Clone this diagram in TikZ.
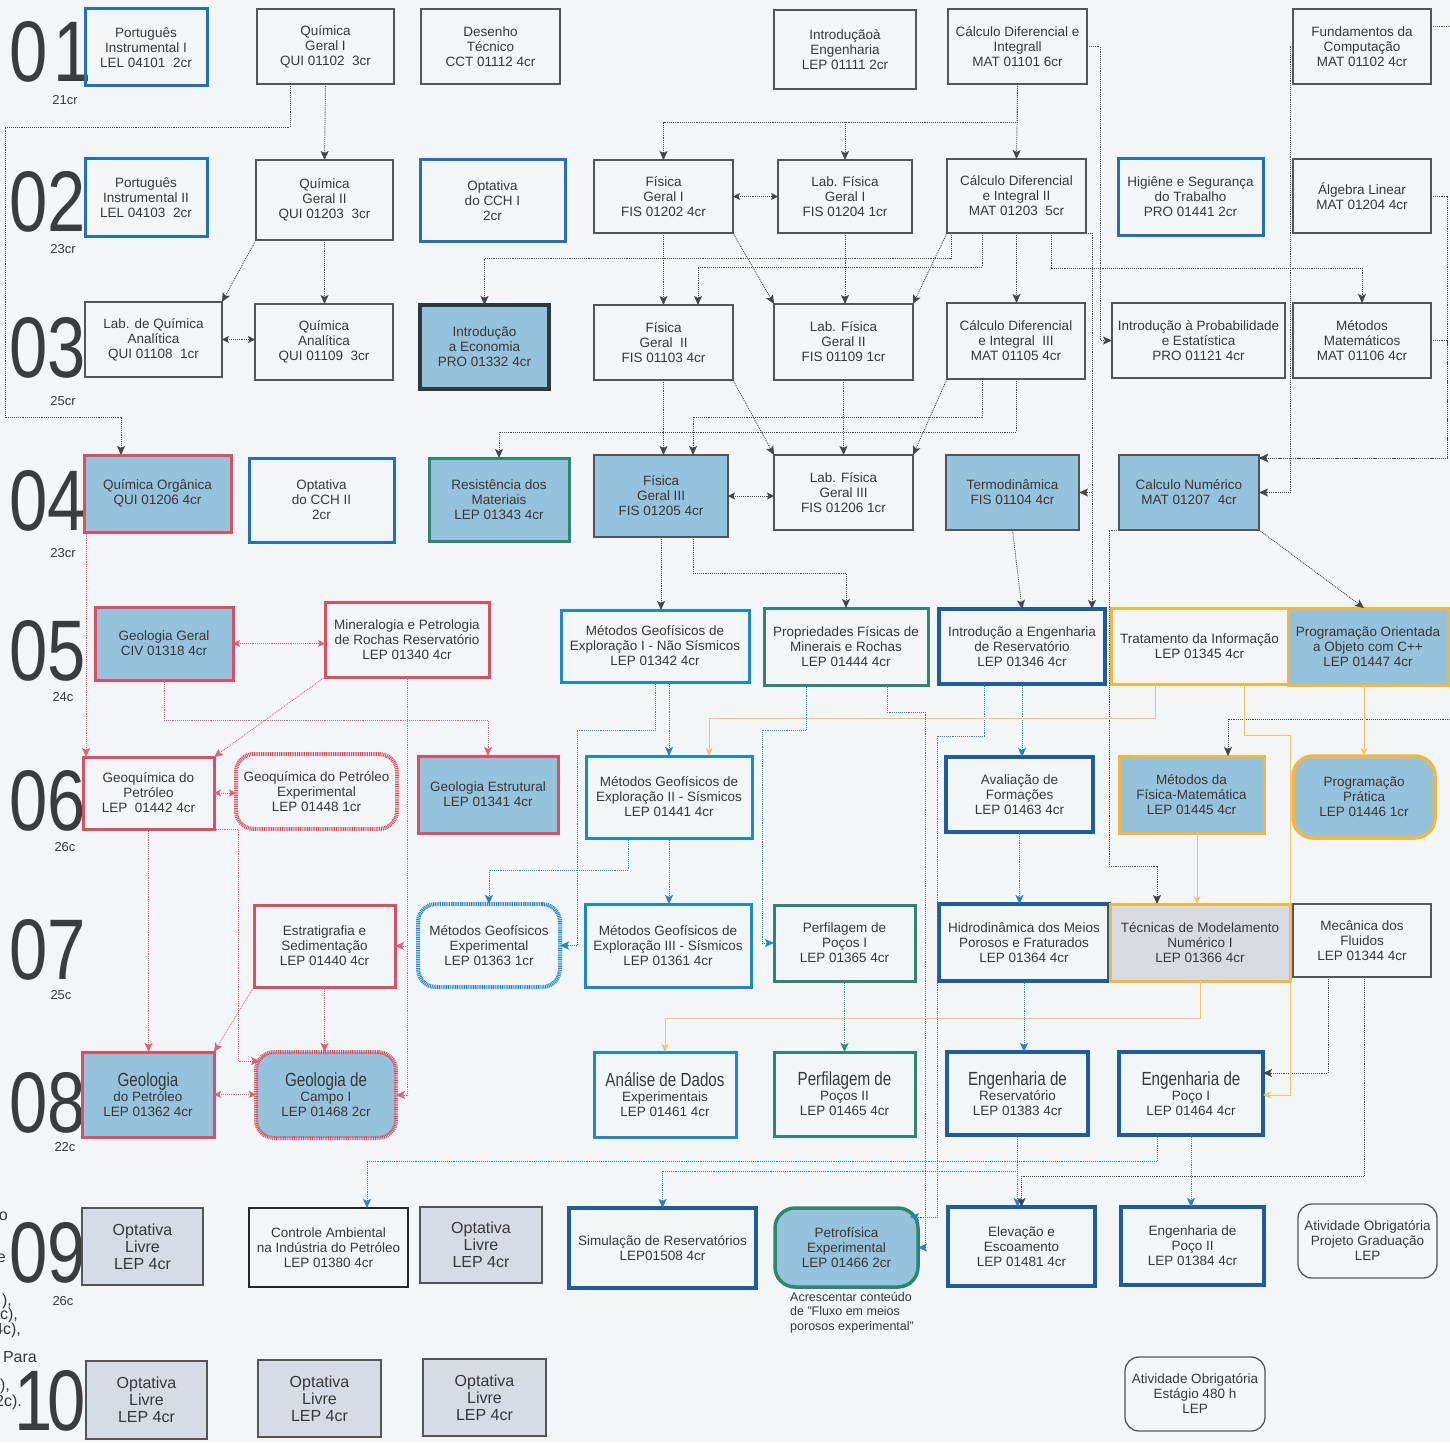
\documentclass[tikz,border=0pt]{standalone}
\usepackage{fontspec}
\usepackage{graphicx}
\setmainfont{Liberation Sans}
\newfontfamily\cond[FakeStretch=0.8]{Liberation Sans}
\newfontfamily\numf[FakeStretch=0.8]{Liberation Sans}
\usetikzlibrary{arrows.meta,calc}
\definecolor{bg}{RGB}{243,246,249}
\definecolor{txtc}{RGB}{55,55,58}
\definecolor{numc}{RGB}{58,60,62}
\definecolor{gborder}{RGB}{85,85,88}
\definecolor{blueA}{RGB}{35,112,185}
\definecolor{blueM}{RGB}{30,135,205}
\definecolor{blueD}{RGB}{30,92,160}
\definecolor{redB}{RGB}{222,78,98}
\definecolor{tealB}{RGB}{45,135,112}
\definecolor{orB}{RGB}{245,182,62}
\definecolor{fillB}{RGB}{150,195,220}
\definecolor{fillG}{RGB}{214,219,228}
\definecolor{fillT}{RGB}{216,220,224}
\definecolor{darkB}{RGB}{45,58,64}
\definecolor{lineD}{RGB}{70,70,72}
\definecolor{lineB}{RGB}{40,130,200}
\definecolor{lineR}{RGB}{230,95,115}
\definecolor{lineO}{RGB}{246,196,100}
\definecolor{lineT}{RGB}{50,140,120}
\newcommand\crs[7]{%
  \node[#2, minimum width={(#5-#3)*1pt}, minimum height={(#6-#4)*1pt}] (#1) at ({(#3+#5)/2},{(#4+#6)/2}) {};
  \node[txt] (#1-t) at (#1.center) {#7};}
\newcommand\bl[1]{{\cond\fontsize{19}{15}\selectfont #1}}
\begin{document}
\begin{tikzpicture}[x=1pt,y=-1pt,
  base/.style={rectangle, inner sep=0pt, outer sep=0pt},
  gbox/.style={base, draw=gborder, line width=1.6pt},
  bbox/.style={base, draw=blueA, line width=3pt},
  mbox/.style={base, draw=blueM, line width=3pt},
  dbox/.style={base, draw=blueD, line width=3.2pt},
  rbox/.style={base, draw=redB, line width=3pt},
  rfbox/.style={rbox, fill=fillB},
  tbox/.style={base, draw=tealB, line width=3pt},
  tfbox/.style={tbox, fill=fillB},
  obox/.style={base, draw=orB, line width=3pt},
  ofbox/.style={obox, fill=fillB},
  otbox/.style={obox, fill=fillT},
  dfbox/.style={base, draw=gborder, line width=2pt, fill=fillB},
  ebox/.style={base, draw=darkB, line width=3.5pt, fill=fillB},
  kbox/.style={base, draw=black!85, line width=2.5pt},
  olbox/.style={base, draw=gborder, line width=1.6pt, fill=fillG},
  rjag/.style={base, draw=redB, line width=4pt, dash pattern=on 1pt off 0.8pt, rounded corners=18pt},
  rjagf/.style={rjag, fill=fillB},
  bjag/.style={base, draw=blueM, line width=4pt, dash pattern=on 1pt off 0.8pt, rounded corners=18pt},
  tround/.style={base, draw=tealB, line width=3.5pt, rounded corners=20pt, fill=fillB},
  oround/.style={base, draw=orB, line width=3.5pt, rounded corners=20pt, fill=fillB},
  around/.style={base, draw=gborder, line width=1.3pt, rounded corners=14pt},
  txt/.style={inner sep=0pt, align=center, text=txtc, font=\fontsize{13.5}{15}\selectfont},
  oltxt/.style={txt, font=\fontsize{16}{17}\selectfont},
  rowlab/.style={inner sep=0pt, anchor=base west, text=numc, font=\numf\fontsize{86}{86}\selectfont},
  sublab/.style={inner sep=0pt, text=txtc, font=\fontsize{13}{13}\selectfont},
  frag/.style={inner sep=0pt, anchor=base east, text=txtc, font=\fontsize{16}{16}\selectfont},
  tip/.style={-{Stealth[length=9pt,width=8pt,inset=2pt]}},
  dtip/.style={{Stealth[length=7pt,width=7pt,inset=1.5pt]}-{Stealth[length=7pt,width=7pt,inset=1.5pt]}},
  con/.style={draw=lineD, densely dotted, line width=0.9pt, tip},
  con2/.style={con, dtip},
  plain/.style={draw=lineD, densely dotted, line width=0.9pt},
  rcon/.style={con, draw=lineR},
  rcon2/.style={con2, draw=lineR},
  bcon/.style={con, draw=lineB},
  tcon/.style={con, draw=lineT},
  ocon/.style={draw=lineO, line width=0.9pt, -{Stealth[length=8pt,width=7pt,inset=2pt]}}
]
\useasboundingbox[fill=bg] (0,0) rectangle (1450,1442);

% ---------- row labels ----------
\node[rowlab] (r01) at (9,82) {0\kern6pt1};
\node[rowlab] (r02) at (9,231) {02};
\node[rowlab] (r03) at (9,377) {03};
\node[rowlab] (r04) at (9,530) {04};
\node[rowlab] (r05) at (9,680) {05};
\node[rowlab] (r06) at (9,830) {06};
\node[rowlab] (r07) at (9,979) {07};
\node[rowlab] (r08) at (9,1132) {08};
\node[rowlab] (r09) at (9,1282) {09};
\node[rowlab] (r10) at (14,1430) {1\kern-5pt0};
\node[sublab] (s01) at (65,100) {21cr};
\node[sublab] (s02) at (63,249) {23cr};
\node[sublab] (s03) at (63,401) {25cr};
\node[sublab] (s04) at (63,553) {23cr};
\node[sublab] (s05) at (63,697) {24c};
\node[sublab] (s06) at (65,847) {26c};
\node[sublab] (s07) at (61,995) {25c};
\node[sublab] (s08) at (65,1147) {22c};
\node[sublab] (s09) at (63,1301) {26c};
% cut-off fragments at left edge
\node[frag] (f1) at (8,1220) {o};
\node[frag] (f2) at (6,1262) {e};
\node[frag] (f3) at (12,1305) {),};
\node[frag] (f4) at (18,1319) {c),};
\node[frag] (f5) at (21,1334) {4c),};
\node[frag] (f6) at (37,1362) {Para};
\node[frag] (f7) at (10,1390) {),};
\node[frag] (f8) at (22,1406) {2c).};

% ---------- courses ----------
\crs{PI1}{bbox}{85}{9}{207}{86}{Português\\Instrumental I\\LEL 04101~~2cr}
\crs{QG1}{gbox}{257}{9}{394}{84}{Química\\Geral I\\QUI 01102~~3cr}
\crs{DT}{gbox}{421}{9}{560}{84}{Desenho\\Técnico\\CCT 01112 4cr}
\crs{IE}{gbox}{774}{10}{916}{89}{Introduçãoà\\Engenharia\\LEP 01111 2cr}
\crs{CD1}{gbox}{948}{9}{1087}{84}{Cálculo Diferencial e\\Integrall\\MAT 01101 6cr}
\crs{FC}{gbox}{1293}{9}{1431}{84}{Fundamentos da\\Computação\\MAT 01102 4cr}

\crs{PI2}{bbox}{85}{159}{207}{236}{Português\\Instrumental II\\LEL 04103~~2cr}
\crs{QG2}{gbox}{256}{160}{393}{240}{Química\\Geral II\\QUI 01203~~3cr}
\crs{OCCH1}{bbox}{420}{160}{565}{241}{Optativa\\do CCH I\\2cr}
\crs{FG1}{gbox}{594}{160}{733}{233}{Física\\Geral I\\FIS 01202 4cr}
\crs{LFG1}{gbox}{778}{160}{912}{233}{Lab. Física\\Geral I\\FIS 01204 1cr}
\crs{CD2}{gbox}{947}{159}{1086}{233}{Cálculo Diferencial\\e Integral II\\MAT 01203~~5cr}
\crs{HST}{bbox}{1118}{159}{1263}{235}{Higiêne e Segurança\\do Trabalho\\PRO 01441 2cr}
\crs{AL}{gbox}{1293}{159}{1431}{233}{Álgebra Linear\\MAT 01204 4cr}

\crs{LQA}{gbox}{85}{302}{222}{377}{Lab. de Química\\Analítica\\QUI 01108~~1cr}
\crs{QA}{gbox}{255}{304}{393}{380}{Química\\Analítica\\QUI 01109~~3cr}
\crs{IEc}{ebox}{420}{305}{549}{389}{Introdução\\a Economia\\PRO 01332 4cr}
\crs{FG2}{gbox}{594}{305}{733}{380}{Física\\Geral~~II\\FIS 01103 4cr}
\crs{LFG2}{gbox}{774}{304}{913}{380}{Lab. Física\\Geral II\\FIS 01109 1cr}
\crs{CD3}{gbox}{947}{303}{1085}{379}{Cálculo Diferencial\\e Integral~~III\\MAT 01105 4cr}
\crs{IPE}{gbox}{1112}{303}{1285}{378}{Introdução à Probabilidade\\e Estatística\\PRO 01121 4cr}
\crs{MM}{gbox}{1293}{303}{1431}{378}{Métodos\\Matemáticos\\MAT 01106 4cr}

\crs{QO}{rfbox}{84}{455}{231}{532}{Química Orgânica\\QUI 01206 4cr}
\crs{OCCH2}{bbox}{249}{458}{394}{542}{Optativa\\do CCH II\\2cr}
\crs{RM}{tfbox}{429}{458}{569}{541}{Resistência dos\\Materiais\\LEP 01343 4cr}
\crs{FG3}{dfbox}{594}{455}{728}{537}{Física\\Geral III\\FIS 01205 4cr}
\crs{LFG3}{gbox}{774}{455}{913}{530}{Lab. Física\\Geral III\\FIS 01206 1cr}
\crs{TD}{dfbox}{946}{455}{1079}{530}{Termodinâmica\\FIS 01104 4cr}
\crs{CN}{dfbox}{1119}{455}{1259}{530}{Calculo Numérico\\MAT 01207~~4cr}

\crs{GG}{rfbox}{95}{607}{233}{680}{Geologia Geral\\CIV 01318 4cr}
\crs{MPR}{rbox}{325}{602}{489}{677}{Mineralogia e Petrologia\\de Rochas Reservatório\\LEP 01340 4cr}
\crs{MGE1}{mbox}{561}{610}{749}{682}{Métodos Geofísicos de\\Exploração I - Não Sísmicos\\LEP 01342 4cr}
\crs{PFMR}{tbox}{764}{608}{928}{685}{Propriedades Físicas de\\Minerais e Rochas\\LEP 01444 4cr}
\crs{IER}{dbox}{939}{609}{1105}{684}{Introdução a Engenharia\\de Reservatório\\LEP 01346 4cr}
\crs{TI}{obox}{1111}{608}{1288}{684}{Tratamento da Informação\\LEP 01345 4cr}
\crs{POO}{ofbox}{1288}{608}{1448}{685}{Programação Orientada\\a Objeto com C++\\LEP 01447 4cr}

\crs{GP}{rbox}{83}{757}{214}{829}{Geoquímica do\\Petróleo\\LEP~~01442 4cr}
\crs{GPE}{rjag}{236}{754}{397}{829}{Geoquímica do Petróleo\\Experimental\\LEP 01448 1cr}
\crs{GE}{rfbox}{418}{756}{558}{833}{Geologia Estrutural\\LEP 01341 4cr}
\crs{MGE2}{mbox}{586}{756}{752}{838}{Métodos Geofísicos de\\Exploração II - Sísmicos\\LEP 01441 4cr}
\crs{AF}{dbox}{946}{757}{1093}{832}{Avaliação de\\Formações\\LEP 01463 4cr}
\crs{MFM}{ofbox}{1119}{756}{1264}{833}{Métodos da\\Física-Matemática\\LEP 01445 4cr}
\crs{PP}{oround}{1293}{756}{1435}{838}{Programação\\Prática\\LEP 01446 1cr}

\crs{ES}{rbox}{254}{905}{395}{987}{Estratigrafia e\\Sedimentação\\LEP 01440 4cr}
\crs{MGEx}{bjag}{418}{904}{560}{987}{Métodos Geofísicos\\Experimental\\LEP 01363 1cr}
\crs{MGE3}{mbox}{585}{904}{751}{987}{Métodos Geofísicos de\\Exploração III - Sísmicos\\LEP 01361 4cr}
\crs{PP1}{tbox}{774}{905}{915}{981}{Perfilagem de\\Poços I\\LEP 01365 4cr}
\crs{HMP}{dbox}{939}{904}{1109}{981}{Hidrodinâmica dos Meios\\Porosos e Fraturados\\LEP 01364 4cr}
\crs{TMN}{otbox}{1110}{904}{1290}{981}{Técnicas de Modelamento\\Numérico I\\LEP 01366 4cr}
\crs{MF}{gbox}{1293}{904}{1431}{977}{Mecânica dos\\Fluidos\\LEP 01344 4cr}

\crs{GPet}{rfbox}{82}{1052}{214}{1137}{\bl{Geologia}\\do Petróleo\\LEP 01362 4cr}
\crs{GC1}{rjagf}{256}{1052}{396}{1138}{\bl{Geologia de}\\Campo I\\LEP 01468 2cr}
\crs{ADE}{mbox}{594}{1052}{736}{1137}{\bl{Análise de Dados}\\Experimentais\\LEP 01461 4cr}
\crs{PP2}{tbox}{774}{1052}{915}{1136}{\bl{Perfilagem de}\\Poços II\\LEP 01465 4cr}
\crs{ER}{dbox}{947}{1052}{1088}{1135}{\bl{Engenharia de}\\Reservatório\\LEP 01383 4cr}
\crs{EP1}{dbox}{1119}{1052}{1263}{1135}{\bl{Engenharia de}\\Poço I\\LEP 01464 4cr}

\node[olbox, minimum width=121pt, minimum height=77pt] (OL1) at (142.5,1246.5) {};
\node[oltxt] (OL1-t) at (OL1.center) {Optativa\\Livre\\LEP 4cr};
\crs{CA}{kbox}{249}{1208}{408}{1287}{Controle Ambiental\\na Indústria do Petróleo\\LEP 01380 4cr}
\node[olbox, minimum width=122pt, minimum height=76pt] (OL2) at (481,1245) {};
\node[oltxt] (OL2-t) at (OL2.center) {Optativa\\Livre\\LEP 4cr};
\crs{SR}{dbox}{569}{1208}{756}{1288}{Simulação de Reservatórios\\LEP01508 4cr}
\crs{PE}{tround}{775}{1208}{918}{1287}{Petrofísica\\Experimental\\LEP 01466 2cr}
\crs{EE}{dbox}{948}{1207}{1095}{1286}{Elevação e\\Escoamento\\LEP 01481 4cr}
\crs{EP2}{dbox}{1121}{1207}{1264}{1285}{Engenharia de\\Poço II\\LEP 01384 4cr}
\crs{AOPG}{around}{1298}{1204}{1437}{1278}{Atividade Obrigatória\\Projeto Graduação\\LEP}
\node[txt, anchor=north west, align=left, font=\fontsize{12.5}{14.5}\selectfont] (note) at (790,1292) {Acrescentar conteúdo\\de "Fluxo em meios\\porosos experimental"};

\node[olbox, minimum width=121pt, minimum height=78pt] (OL3) at (146.5,1400) {};
\node[oltxt] (OL3-t) at (OL3.center) {Optativa\\Livre\\LEP 4cr};
\node[olbox, minimum width=123pt, minimum height=77pt] (OL4) at (319.5,1398.5) {};
\node[oltxt] (OL4-t) at (OL4.center) {Optativa\\Livre\\LEP 4cr};
\node[olbox, minimum width=123pt, minimum height=77pt] (OL5) at (484.5,1397.5) {};
\node[oltxt] (OL5-t) at (OL5.center) {Optativa\\Livre\\LEP 4cr};
\crs{AOE}{around}{1125}{1357}{1265}{1431}{Atividade Obrigatória\\Estágio 480 h\\LEP}

\coordinate (edgeF) at (1450,26);
\coordinate (edgeR) at (1450,719);

% ---------- dark connectors ----------
\draw[con] (QG1.south) -- (QG2.north);
\draw[con] (QG1.south -| 290,0) -- (290,127) -- (5,127) -- (5,417) -- (121,417) -- (QO.north -| 121,0);
\draw[con] (QG2.south west) -- (LQA.north east);
\draw[con] (QG2.south) -- (QG2.south |- QA.north);
\draw[con2] (LQA.east) -- (LQA.east -| QA.west);
\draw[con] (CD1.south) -- (CD2.north);
\draw[con] (CD1.south) |- (FG1.north |- 0,122) -- (FG1.north);
\draw[con] (CD1.south) |- (LFG1.north |- 0,122) -- (LFG1.north);
\draw[con2] (FG1.east) -- (FG1.east -| LFG1.west);
\draw[con] (FG1.south) -- (FG1.south |- FG2.north);
\draw[con] (FG1.south east) -- (LFG2.north west);
\draw[con] (LFG1.south) -- (LFG1.south |- LFG2.north);
\draw[con] (CD2.south west) -- (LFG2.north east);
\draw[con] (CD2.south) -- (CD2.south |- CD3.north);
\draw[con] (CD2.south -| 951,0) |- (IEc.north |- 0,258) -- (IEc.north);
\draw[con] (CD2.south -| 982,0) |- (698,267) -- (FG2.north -| 698,0);
\draw[con] (CD2.south -| 1051,0) |- (MM.north |- 0,268) -- (MM.north);
\draw[con] (CD2.south east) -| (1092,492.5) -- (TD.east);
\draw[con] (CD2.south east) -| (IER.north -| 1092,0);
\draw[con] (CD1.east) -| (1100,340.5) -- (IPE.west);
\draw[con] (FC.west) -| (1290,492.5) -- (CN.east);
\draw[con] (AL.east) -| (1447,458) -- (CN.east |- 0,458);
\draw[con] (MM.east) -| (1447,458) -- (CN.east |- 0,458);
\draw[plain] (FC.east |- 0,26) -- (edgeF);
\draw[con] (FG2.south) -- (FG2.south |- FG3.north);
\draw[con] (CD3.south -| 982,0) |- (693,417) -- (FG3.north -| 693,0);
\draw[con] (CD3.south) |- (RM.north |- 0,432) -- (RM.north);
\draw[con] (FG2.south east) -- (LFG3.north west);
\draw[con] (LFG2.south) -- (LFG2.south |- LFG3.north);
\draw[con] (CD3.south west) -- (LFG3.north east);
\draw[con2] (FG3.east) -- (FG3.east -| LFG3.west);
\draw[con] (FG3.south) -- (FG3.south |- MGE1.north);
\draw[con] (FG3.south -| 693,0) |- (PFMR.north |- 0,573) -- (PFMR.north);
\draw[con] (TD.south) -- (IER.north);
\draw[con] (CN.south east) -- (POO.north -| 1364,0);
\draw[con] (CN.south west) -- (1109,530) |- (1157,866) -- (TMN.north -| 1157,0);
\draw[con] (edgeR) -| (MFM.north -| 1228,0);
\draw[con] (MF.south -| 1328,0) |- (EP1.east |- 0,1073);

% ---------- red connectors ----------
\draw[rcon] (QO.south -| 86,0) -- (GP.north -| 86,0);
\draw[rcon2] (GG.east) -- (GG.east -| MPR.west);
\draw[rcon] (MPR.south west) -- (GP.north east);
\draw[rcon] (GG.south -| 164,0) |- (GE.north |- 0,720) -- (GE.north);
\draw[rcon] (MPR.south -| 407,0) |- (ES.east);
\draw[rcon] (MPR.south -| 407,0) |- (GC1.east);
\draw[rcon] (GP.south) -- (GP.south |- GPet.north);
\draw[rcon] (GP.south east) -| (238,1061) -- ($(GC1.west |- 0,1061)+(4,0)$);
\draw[rcon2] (GP.east) -- (GP.east -| GPE.west);
\draw[rcon] (ES.south west) -- (GPet.north east);
\draw[rcon] (ES.south) -- (ES.south |- GC1.north);
\draw[rcon2] (GPet.east) -- (GPet.east -| GC1.west);

% ---------- blue / teal connectors ----------
\draw[bcon] (MGE2.north |- MGE1.south) -- (MGE2.north);
\draw[bcon] (MGE1.south) |- (577,730) |- (MGEx.east);
\draw[bcon] (MGE2.south -| 628,0) |- (MGEx.north |- 0,870) -- (MGEx.north);
\draw[bcon] (MGE2.south) -- (MGE2.south |- MGE3.north);
\draw[bcon] (PFMR.south -| 806,0) |- (762,730) |- (PP1.west);
\draw[bcon] (PFMR.south -| 887,0) |- (925,712) |- (PE.east);
\draw[bcon] (IER.south -| 984,0) |- (937,736) |- ($(PE.north east)+(-8,9)$);
\draw[bcon] (IER.south) -- (IER.south |- AF.north);
\draw[bcon] (AF.south) -- (AF.south |- HMP.north);
\draw[bcon] (HMP.south) -- (HMP.south |- ER.north);
\draw[bcon] (ER.south) |- (SR.north |- 0,1171) -- (SR.north);
\draw[bcon] (ER.south) -- (ER.south |- EE.north);
\draw[bcon] (EP1.south -| 1157,0) |- (367,1161) -- (CA.north -| 367,0);
\draw[bcon] (EP1.south) -- (EP1.south |- EP2.north);
\draw[tcon] (PP1.south) -- (PP1.south |- PP2.north);
\draw[con] (MF.south -| 1364,0) |- (EE.north |- 0,1176) -- (EE.north);

% ---------- orange connectors ----------
\draw[ocon] (TI.south -| 1155,0) |- (709,718) -- (MGE2.north -| 709,0);
\draw[ocon] (TI.south -| 1244,0) |- (1290,735) |- (EP1.east |- 0,1095);
\draw[ocon] (MFM.south -| 1197,0) -- (TMN.north -| 1197,0);
\draw[ocon] (TMN.south) |- (ADE.north |- 0,1018) -- (ADE.north);
\draw[ocon] (PP.north |- POO.south) -- (PP.north);
\end{tikzpicture}
\end{document}
